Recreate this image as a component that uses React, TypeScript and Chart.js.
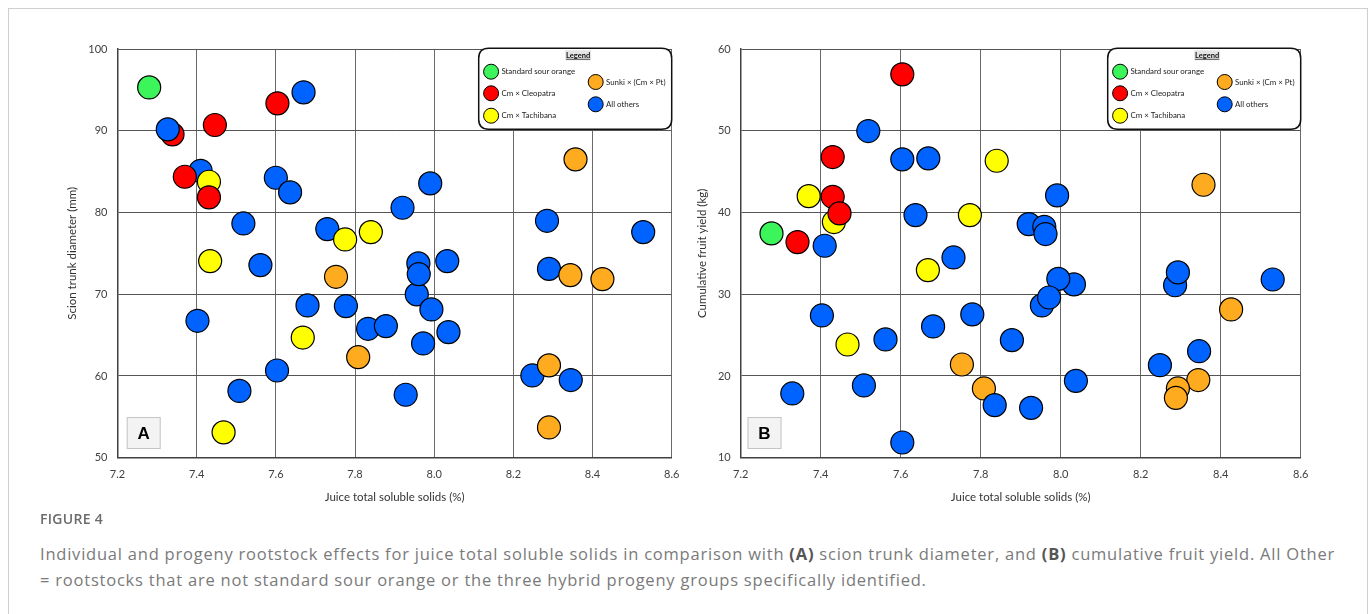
import React, { useEffect, useRef } from "react";
import { Chart, registerables } from "chart.js";

Chart.register(...registerables);

// ---------- data ----------
const groupNames = [
  "Standard sour orange",
  "Cm × Cleopatra",
  "Cm × Tachibana",
  "Sunki × (Cm × Pt)",
  "All others",
];
const groupColors = ["#3cf55a", "#ff0000", "#ffff00", "#ffab1f", "#0063ff"];

const xTickValues = [7.2, 7.4, 7.6, 7.8, 8.0, 8.2, 8.4, 8.6];
const yTickValuesA = [50, 60, 70, 80, 90, 100];
const yTickValuesB = [10, 20, 30, 40, 50, 60];

// Panel A: juice TSS (%) vs scion trunk diameter (mm); group index per point
const tssA = [
  7.67, 7.41, 7.6, 7.636, 7.518, 7.73, 7.561, 7.68, 7.777, 7.402, 7.833, 7.878, 7.603, 7.508, 7.99,
  7.92, 8.285, 8.528, 7.956, 7.96, 7.961, 8.033, 8.29, 7.993, 7.972, 8.036, 8.248, 8.345, 7.928,
  7.431, 7.775, 7.84, 7.434, 7.668, 7.468,
  7.339, 7.446, 7.604, 7.37, 7.431,
  8.357, 7.752, 7.808, 8.344, 8.425, 8.29, 8.29,
  7.28,
  7.327,
];
const trunkDiameterA = [
  94.7, 85.1, 84.25, 82.46, 78.66, 77.97, 73.56, 68.63, 68.55, 66.75, 65.77, 66.1, 60.67, 58.17, 83.56,
  80.58, 78.98, 77.6, 69.98, 73.77, 72.46, 74.05, 73.1, 68.14, 63.98, 65.36, 60.06, 59.5, 57.7,
  83.76, 76.7, 77.6, 74.05, 64.7, 53.1,
  89.56, 90.7, 93.35, 84.37, 81.85,
  86.5, 72.13, 62.3, 72.34, 71.85, 61.3, 53.7,
  95.3,
  90.17,
];
const groupA = [
  4, 4, 4, 4, 4, 4, 4, 4, 4, 4, 4, 4, 4, 4, 4,
  4, 4, 4, 4, 4, 4, 4, 4, 4, 4, 4, 4, 4, 4,
  2, 2, 2, 2, 2, 2,
  1, 1, 1, 1, 1,
  3, 3, 3, 3, 3, 3, 3,
  0,
  4,
];

// Panel B: juice TSS (%) vs cumulative fruit yield (kg)
const tssB = [
  8.357, 8.426, 7.753, 7.808, 8.344, 8.293, 8.288,
  7.41, 7.519, 7.604, 7.669, 7.637, 7.92, 7.732, 7.403, 7.562, 7.681, 7.779, 7.878, 7.835, 7.926,
  7.508, 7.329, 7.604, 7.991, 7.959, 7.962, 8.286, 8.293, 8.53, 8.033, 7.994, 7.953, 7.971, 8.346,
  8.248, 8.038,
  7.37, 7.433, 7.84, 7.773, 7.668, 7.467,
  7.342, 7.43, 7.43, 7.447, 7.604,
  7.277,
];
const fruitYieldB = [
  43.39, 28.14, 21.4, 18.47, 19.5, 18.47, 17.32,
  35.93, 49.96, 46.5, 46.62, 39.68, 38.58, 34.5, 27.4, 24.47, 26.06, 27.53, 24.38, 16.43, 16.1,
  18.84, 17.86, 11.86, 42.09, 38.25, 37.36, 31.1, 32.67, 31.8, 31.2, 31.88, 28.63, 29.6, 23.03,
  21.32, 19.4,
  42.0, 38.83, 46.33, 39.68, 32.95, 23.85,
  36.38, 46.78, 41.92, 39.89, 56.9,
  37.44,
];
const groupB = [
  3, 3, 3, 3, 3, 3, 3,
  4, 4, 4, 4, 4, 4, 4, 4, 4, 4, 4, 4, 4, 4,
  4, 4, 4, 4, 4, 4, 4, 4, 4, 4, 4, 4, 4, 4,
  4, 4,
  2, 2, 2, 2, 2, 2,
  1, 1, 1, 1, 1,
  0,
];

const FONT = "Lato, 'Open Sans', sans-serif";
const TEXT_DARK = "#404040";

// ---------- plugins ----------
const boxLegendPlugin = {
  id: "boxLegend",
  afterDraw(chart: any) {
    const { ctx, chartArea } = chart;
    const w = 193;
    const h = 81;
    const bx = chartArea.right - w;
    const by = chartArea.top - 0.7;
    ctx.save();
    const r = 10;
    ctx.beginPath();
    ctx.moveTo(bx + r, by);
    ctx.lineTo(bx + w - r, by);
    ctx.quadraticCurveTo(bx + w, by, bx + w, by + r);
    ctx.lineTo(bx + w, by + h - r);
    ctx.quadraticCurveTo(bx + w, by + h, bx + w - r, by + h);
    ctx.lineTo(bx + r, by + h);
    ctx.quadraticCurveTo(bx, by + h, bx, by + h - r);
    ctx.lineTo(bx, by + r);
    ctx.quadraticCurveTo(bx, by, bx + r, by);
    ctx.closePath();
    ctx.fillStyle = "#ffffff";
    ctx.fill();
    ctx.lineWidth = 1.5;
    ctx.strokeStyle = "#111111";
    ctx.stroke();

    ctx.font = `bold 7.5px ${FONT}`;
    ctx.textAlign = "center";
    ctx.textBaseline = "middle";
    const tx = bx + 99.4;
    const ty = by + 7;
    const tw = ctx.measureText("Legend").width;
    ctx.fillStyle = "#e4e4e4";
    ctx.fillRect(tx - tw / 2 - 1, ty - 5, tw + 2, 10);
    ctx.fillStyle = "#111";
    ctx.fillText("Legend", tx, ty);
    ctx.beginPath();
    ctx.moveTo(tx - tw / 2, ty + 4);
    ctx.lineTo(tx + tw / 2, ty + 4);
    ctx.lineWidth = 0.7;
    ctx.strokeStyle = "#111";
    ctx.stroke();

    const items = [
      { g: 0, x: 12.4, y: 23.4 },
      { g: 1, x: 12.4, y: 45 },
      { g: 2, x: 12.4, y: 67.4 },
      { g: 3, x: 117, y: 33.7 },
      { g: 4, x: 117, y: 56 },
    ];
    ctx.font = `7.9px ${FONT}`;
    ctx.textAlign = "left";
    for (const it of items) {
      ctx.beginPath();
      ctx.arc(bx + it.x, by + it.y, 7.5, 0, Math.PI * 2);
      ctx.fillStyle = groupColors[it.g];
      ctx.fill();
      ctx.lineWidth = 1;
      ctx.strokeStyle = "#000";
      ctx.stroke();
      ctx.fillStyle = "#222";
      ctx.fillText(groupNames[it.g], bx + it.x + 10.3, by + it.y);
    }
    ctx.restore();
  },
};

const panelLabelPlugin = {
  id: "panelLabel",
  afterDraw(chart: any, _args: any, opts: any) {
    const { ctx, chartArea } = chart;
    const w = 34;
    const h = 32;
    const x = chartArea.left + opts.dx;
    const y = chartArea.bottom - 8.7 - h;
    ctx.save();
    ctx.fillStyle = "#f3f3f3";
    ctx.fillRect(x, y, w, h);
    ctx.strokeStyle = "#c4c4c4";
    ctx.lineWidth = 1;
    ctx.strokeRect(x + 0.5, y + 0.5, w - 1, h - 1);
    ctx.fillStyle = "#000";
    ctx.font = "bold 17px 'Liberation Sans', Arial, sans-serif";
    ctx.textAlign = "center";
    ctx.textBaseline = "middle";
    ctx.fillText(opts.text, x + w / 2, y + h / 2 + 1);
    ctx.restore();
  },
};

// ---------- chart builder ----------
type PanelSpec = {
  xs: number[];
  ys: number[];
  groups: number[];
  yTicks: number[];
  yTitle: string;
  letter: string;
  letterDx: number;
  canvasW: number;
  canvasH: number;
  areaLeft: number;
  areaRight: number;
  areaTop: number;
  areaBottom: number;
  yTitleX: number;
  xTitleY: number;
};

function buildConfig(p: PanelSpec): any {
  return {
    type: "scatter",
    data: {
      datasets: [
        {
          data: p.xs.map((x, i) => ({ x, y: p.ys[i] })),
          backgroundColor: p.groups.map((g) => groupColors[g]),
          borderColor: "#000000",
          borderWidth: 1.2,
          pointRadius: 11.5,
          pointHoverRadius: 11.5,
        },
      ],
    },
    plugins: [boxLegendPlugin, panelLabelPlugin],
    options: {
      animation: false,
      responsive: false,
      events: [],
      layout: {
        padding: {
          left: 0,
          top: p.areaTop,
          right: p.canvasW - p.areaRight,
          bottom: 0,
        },
      },
      plugins: {
        legend: { display: false },
        tooltip: { enabled: false },
        panelLabel: { text: p.letter, dx: p.letterDx },
      },
      scales: {
        x: {
          type: "linear",
          min: xTickValues[0],
          max: xTickValues[xTickValues.length - 1],
          afterBuildTicks: (s: any) => {
            s.ticks = xTickValues.map((v) => ({ value: v }));
          },
          afterFit: (s: any) => {
            s.height = p.canvasH - p.areaBottom;
          },
          ticks: {
            callback: (v: any) => Number(v).toFixed(1),
            padding: 10,
            color: TEXT_DARK,
            font: { family: FONT, size: 11 },
            maxRotation: 0,
          },
          grid: { color: "#6a6a6a", lineWidth: 1, drawTicks: false },
          border: { color: "#404040", width: 1.5 },
          title: {
            display: true,
            text: "Juice total soluble solids (%)",
            color: "#333",
            font: { family: FONT, size: 11.5 },
            padding: { top: 0, bottom: p.canvasH - p.xTitleY - 6.9 },
          },
        },
        y: {
          type: "linear",
          min: p.yTicks[0],
          max: p.yTicks[p.yTicks.length - 1],
          afterBuildTicks: (s: any) => {
            s.ticks = p.yTicks.map((v) => ({ value: v }));
          },
          afterFit: (s: any) => {
            s.width = p.areaLeft;
          },
          ticks: {
            padding: 10,
            color: TEXT_DARK,
            font: { family: FONT, size: 11 },
          },
          grid: { color: "#555555", lineWidth: 1, drawTicks: false },
          border: { color: "#404040", width: 1.5 },
          title: {
            display: true,
            text: p.yTitle,
            color: "#333",
            font: { family: FONT, size: 11.5 },
            padding: { top: p.yTitleX - 6.9, bottom: 0 },
          },
        },
      },
    },
  };
}

function Panel({ spec, left }: { spec: PanelSpec; left: number }) {
  const ref = useRef<HTMLCanvasElement | null>(null);
  useEffect(() => {
    if (!ref.current) return;
    const chart = new Chart(ref.current, buildConfig(spec));
    return () => chart.destroy();
  }, [spec]);
  return (
    <canvas
      ref={ref}
      width={spec.canvasW}
      height={spec.canvasH}
      style={{ position: "absolute", left, top: 0, width: spec.canvasW, height: spec.canvasH }}
    />
  );
}

const specA: PanelSpec = {
  xs: tssA,
  ys: trunkDiameterA,
  groups: groupA,
  yTicks: yTickValuesA,
  yTitle: "Scion trunk diameter (mm)",
  letter: "A",
  letterDx: 9.2,
  canvasW: 690,
  canvasH: 520,
  areaLeft: 117.5,
  areaRight: 671.7,
  areaTop: 49,
  areaBottom: 457.7,
  yTitleX: 72,
  xTitleY: 497,
};

const specB: PanelSpec = {
  xs: tssB,
  ys: fruitYieldB,
  groups: groupB,
  yTicks: yTickValuesB,
  yTitle: "Cumulative fruit yield (kg)",
  letter: "B",
  letterDx: 6.8,
  canvasW: 682,
  canvasH: 520,
  areaLeft: 740.7 - 690,
  areaRight: 1300.7 - 690,
  areaTop: 49,
  areaBottom: 457.7,
  yTitleX: 702 - 690,
  xTitleY: 497,
};

export default function App() {
  return (
    <div style={{ position: "absolute", left: 0, top: 0, width: 1372, height: 614, overflow: "hidden", background: "#fff" }}>
      <div
        style={{
          position: "absolute",
          left: 8,
          top: 8,
          width: 1360,
          height: 700,
          border: "1px solid #cfcfcf",
          boxSizing: "border-box",
        }}
      />
      <Panel spec={specA} left={0} />
      <Panel spec={specB} left={690} />
      <div
        style={{
          position: "absolute",
          left: 40,
          top: 510,
          fontFamily: "'Open Sans', sans-serif",
          fontSize: 14,
          fontWeight: 600,
          letterSpacing: 0.3,
          color: "#6b6b6b",
          lineHeight: "18px",
        }}
      >
        FIGURE 4
      </div>
      <div
        style={{
          position: "absolute",
          left: 40,
          top: 541,
          fontFamily: "'Open Sans', sans-serif",
          fontSize: 16.5,
          letterSpacing: 0.78,
          color: "#7a7a7a",
          lineHeight: "26px",
          whiteSpace: "nowrap",
        }}
      >
        Individual and progeny rootstock effects for juice total soluble solids in comparison with <b style={{ color: "#555" }}>(A)</b> scion trunk
        diameter, and <b style={{ color: "#555" }}>(B)</b> cumulative fruit yield. All Other
        <br />= rootstocks that are not standard sour orange or the three hybrid progeny groups specifically identified.
      </div>
    </div>
  );
}
